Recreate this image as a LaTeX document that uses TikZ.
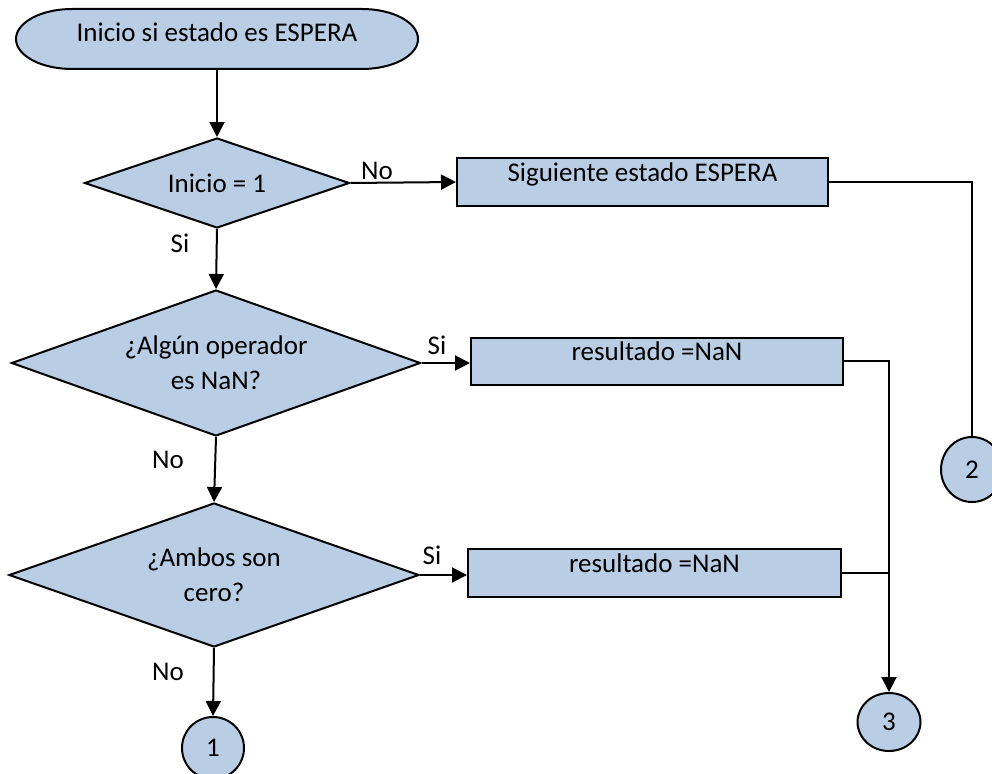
\documentclass[tikz,border=0pt]{standalone}
\usepackage{fontspec}
\setmainfont{Carlito}
\usetikzlibrary{shapes.geometric,arrows.meta}
\definecolor{boxfill}{HTML}{B9CDE5}
\begin{document}
\begin{tikzpicture}[x=1pt,y=-1pt,
  font=\fontsize{27}{35}\selectfont,
  outline/.style={draw=black,line width=2pt,fill=boxfill},
  decision/.style={outline,diamond,inner sep=0pt,align=center},
  process/.style={outline,rectangle,inner sep=0pt,text depth=20pt},
  connector/.style={outline,ellipse,inner sep=0pt},
  flow/.style={draw=black,line width=2pt},
  arrow/.style={flow,-{Triangle[length=15pt,width=15pt]}},
  tag/.style={inner sep=0pt}]
\useasboundingbox (0,0) rectangle (992,773);
\clip (0,0) rectangle (992,773);

% start terminal with elliptical ends
\path[outline] (72,9) -- (362,9)
  arc[start angle=90,end angle=-90,x radius=56pt,y radius=30pt]
  -- (72,69)
  arc[start angle=270,end angle=90,x radius=56pt,y radius=30pt] -- cycle;
\node[inner sep=0pt,minimum width=402pt,minimum height=60pt,text depth=14pt]
  (start) at (217,39) {Inicio si estado es ESPERA};

% decisions
\node[decision,minimum width=265pt,minimum height=90pt,aspect=2.94]
  (d1) at (217,183) {Inicio = 1};
\node[decision,minimum width=409pt,minimum height=146pt,aspect=2.8]
  (d2) at (216,363) {¿Algún operador\\es NaN?};
\node[decision,minimum width=410pt,minimum height=144pt,aspect=2.85]
  (d3) at (214,575) {¿Ambos son\\cero?};

% processes
\node[process,minimum width=371pt,minimum height=48pt]
  (b1) at (642.5,182) {Siguiente estado ESPERA};
\node[process,minimum width=372pt,minimum height=47pt]
  (b2) at (657,361) {resultado =NaN};
\node[process,minimum width=373pt,minimum height=48pt]
  (b3) at (654.5,573) {resultado =NaN};

% off-page connectors
\node[connector,minimum width=62pt,minimum height=62pt] (c1) at (213,748) {1};
\node[connector,minimum width=62pt,minimum height=65pt] (c2) at (972,469.5) {2};
\node[connector,minimum width=63pt,minimum height=58pt] (c3) at (889,722) {3};

% junction points on the right-hand collector line
\coordinate (j2) at (889,361);
\coordinate (j3) at (889,573);

% flow lines
\draw[arrow] (start.south) -- (d1.north);
\draw[arrow] (d1.east) -- (b1.west);
\draw[flow] (b1.east) -- (b1.east -| c2.north) -- (c2.north);
\draw[arrow] (d1.south) -- (d2.north);
\draw[arrow] (d2.east) -- (d2.east -| b2.west);
\draw[arrow] (b2.east) -- (j2) -- (c3.north);
\draw[arrow] (d2.south) -- (d3.north);
\draw[arrow] (d3.east) -- (d3.east -| b3.west);
\draw[flow] (b3.east) -- (j3);
\draw[arrow] (d3.south) -- (c1.north);

% branch labels
\node[tag] (l1) at (377,171) {No};
\node[tag] (l2) at (180,243) {Si};
\node[tag] (l3) at (437,345) {Si};
\node[tag] (l4) at (168,460) {No};
\node[tag] (l5) at (432,555) {Si};
\node[tag] (l6) at (168,672) {No};
\end{tikzpicture}
\end{document}
